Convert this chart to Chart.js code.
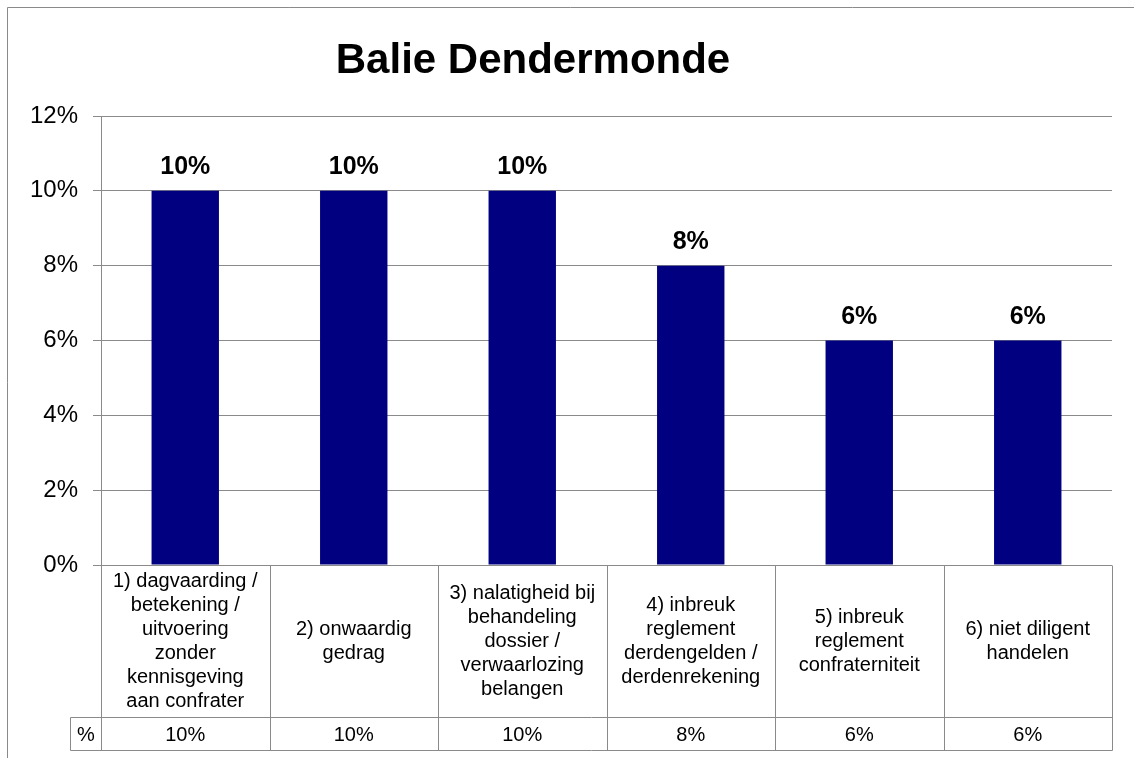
<!DOCTYPE html>
<html>
<head>
<meta charset="utf-8">
<script src="https://cdn.jsdelivr.net/npm/chart.js@4"></script>
<style>
  html, body { margin: 0; padding: 0; background: #fff; }
  #wrap { width: 1134px; height: 758px; position: relative; }
</style>
</head>
<body>
<div id="wrap"><canvas id="c" width="1134" height="758"></canvas></div>
<script>
const chartTitle = 'Balie Dendermonde';
const categories = [
  ['1) dagvaarding /', 'betekening /', 'uitvoering', 'zonder', 'kennisgeving', 'aan confrater'],
  ['2) onwaardig', 'gedrag'],
  ['3) nalatigheid bij', 'behandeling', 'dossier /', 'verwaarlozing', 'belangen'],
  ['4) inbreuk', 'reglement', 'derdengelden /', 'derdenrekening'],
  ['5) inbreuk', 'reglement', 'confraterniteit'],
  ['6) niet diligent', 'handelen']
];
const seriesName = '%';
const values = [10, 10, 10, 8, 6, 6];
const yMin = 0, yMax = 12, yStep = 2;

const FONT = '"Liberation Sans", Arial, Helvetica, sans-serif';
const GRID = '#8a8a8a';

const customDraw = {
  id: 'customDraw',
  afterDraw(chart) {
    const ctx = chart.ctx;
    const x = chart.scales.x;
    const y = chart.scales.y;
    const area = chart.chartArea;
    ctx.save();
    // outer border
    ctx.strokeStyle = GRID;
    ctx.lineWidth = 1;
    ctx.beginPath();
    ctx.moveTo(7.5, 758);
    ctx.lineTo(7.5, 7.5);
    ctx.lineTo(1134, 7.5);
    ctx.stroke();

    // title
    ctx.fillStyle = '#000';
    ctx.font = 'bold 42px ' + FONT;
    ctx.textAlign = 'center';
    ctx.textBaseline = 'alphabetic';
    ctx.fillText(chartTitle, 533, 73);

    // data labels
    const meta = chart.getDatasetMeta(0);
    ctx.font = 'bold 25px ' + FONT;
    meta.data.forEach((bar, i) => {
      ctx.fillText(values[i] + '%', bar.x, bar.y - 17);
    });

    // data table
    const n = categories.length;
    const half = (x.getPixelForValue(1) - x.getPixelForValue(0)) / 2;
    const top = Math.round(area.bottom) + 0.5;
    const rowSplit = 717.5;
    const bottom = 750.5;
    const leftCell = 70.5;
    ctx.strokeStyle = GRID;
    ctx.lineWidth = 1;
    ctx.beginPath();
    for (let i = 0; i <= n; i++) {
      const bx = Math.round(x.getPixelForValue(i - 0.5 < 0 ? 0 : i) - (i < n ? half : -half)) + 0.5;
      const px = i < n ? Math.round(x.getPixelForValue(i) - half) + 0.5 : Math.round(x.getPixelForValue(n - 1) + half) + 0.5;
      ctx.moveTo(px, top);
      ctx.lineTo(px, bottom);
    }
    ctx.moveTo(leftCell, rowSplit);
    ctx.lineTo(Math.round(area.right) + 0.5, rowSplit);
    ctx.moveTo(leftCell, bottom);
    ctx.lineTo(Math.round(area.right) + 0.5, bottom);
    ctx.moveTo(leftCell, rowSplit);
    ctx.lineTo(leftCell, bottom);
    ctx.stroke();

    ctx.fillStyle = '#000';
    ctx.font = '20px ' + FONT;
    ctx.textAlign = 'center';
    ctx.textBaseline = 'middle';
    const lh = 24;
    const midY = (top + rowSplit) / 2;
    categories.forEach((lines, i) => {
      const cx = x.getPixelForValue(i);
      const y0 = midY - (lines.length - 1) * lh / 2;
      lines.forEach((t, k) => ctx.fillText(t, cx, y0 + k * lh));
      ctx.fillText(values[i] + '%', cx, (rowSplit + bottom) / 2 + 1);
    });
    ctx.fillText(seriesName, (leftCell + Math.round(area.left) + 0.5) / 2, (rowSplit + bottom) / 2 + 1);
    ctx.restore();
  }
};

new Chart(document.getElementById('c'), {
  type: 'bar',
  data: {
    labels: categories,
    datasets: [{
      label: seriesName,
      data: values,
      backgroundColor: '#000080',
      borderWidth: 0,
      categoryPercentage: 1,
      barPercentage: 0.4
    }]
  },
  options: {
    responsive: false,
    animation: false,
    layout: { padding: { top: 116, right: 22, bottom: 193, left: 0 } },
    plugins: { legend: { display: false }, title: { display: false }, tooltip: { enabled: false } },
    scales: {
      x: { display: false },
      y: {
        min: yMin, max: yMax,
        afterFit(scale) { scale.width = 101; },
        ticks: {
          stepSize: yStep,
          padding: 15,
          color: '#000',
          font: { family: FONT, size: 24 },
          callback: v => v + '%'
        },
        grid: { color: GRID, lineWidth: 1, tickLength: 8, drawTicks: true },
        border: { display: true, color: GRID, width: 1 }
      }
    }
  },
  plugins: [customDraw]
});
</script>
</body>
</html>
